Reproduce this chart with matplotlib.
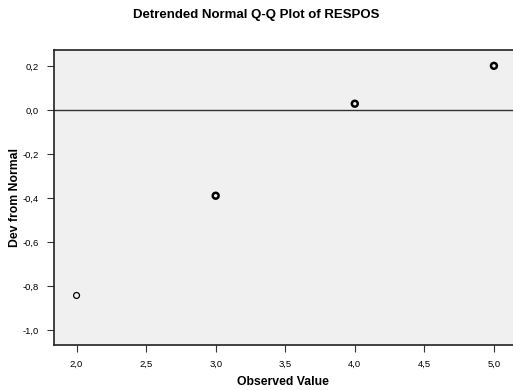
import matplotlib
matplotlib.use("Agg")
import matplotlib.pyplot as plt
from matplotlib.ticker import FuncFormatter

observed = [2.0, 3.0, 4.0, 5.0]
deviation = [-0.843, -0.39, 0.028, 0.2]
edge_width = [0.9, 1.8, 1.8, 1.8]

x_ticks = [2.0, 2.5, 3.0, 3.5, 4.0, 4.5, 5.0]
y_ticks = [0.2, 0.0, -0.2, -0.4, -0.6, -0.8, -1.0]

plt.rcParams['font.family'] = ['Liberation Sans', 'DejaVu Sans']

fig = plt.figure(figsize=(5.13, 3.9), dpi=100)
ax = fig.add_axes([0.105, 0.1154, 0.895, 0.7564])
ax.set_facecolor('#f0f0f0')

ax.axhline(0.0, color='#333333', linewidth=1.0, zorder=1)
for x, y, lw in zip(observed, deviation, edge_width):
    ax.scatter(x, y, s=18, facecolors='none', edgecolors='black', linewidths=lw, zorder=3)

ax.set_xlim(1.837, 5.137)
ax.set_ylim(-1.068, 0.272)
ax.set_xticks(x_ticks)
ax.set_yticks(y_ticks)

comma = FuncFormatter(lambda v, pos: f"{v:.1f}".replace('.', ','))
ax.xaxis.set_major_formatter(comma)
ax.yaxis.set_major_formatter(comma)
ax.tick_params(axis='both', labelsize=6.8, length=5, width=0.8, color='#333333', pad=6)

for side in ['left', 'bottom', 'top']:
    ax.spines[side].set_linewidth(1.2)
    ax.spines[side].set_color('#222222')
ax.spines['right'].set_visible(False)

ax.set_xlabel('Observed Value', fontsize=8.8, fontweight='bold', labelpad=5)
ax.set_ylabel('Dev from Normal', fontsize=8.8, fontweight='bold')
ax.yaxis.set_label_coords(-0.071, 0.5)
fig.text(0.5, 0.962, 'Detrended Normal Q-Q Plot of RESPOS', ha='center', va='center',
         fontsize=9.5, fontweight='bold')

fig.savefig('out.png', dpi=100)
